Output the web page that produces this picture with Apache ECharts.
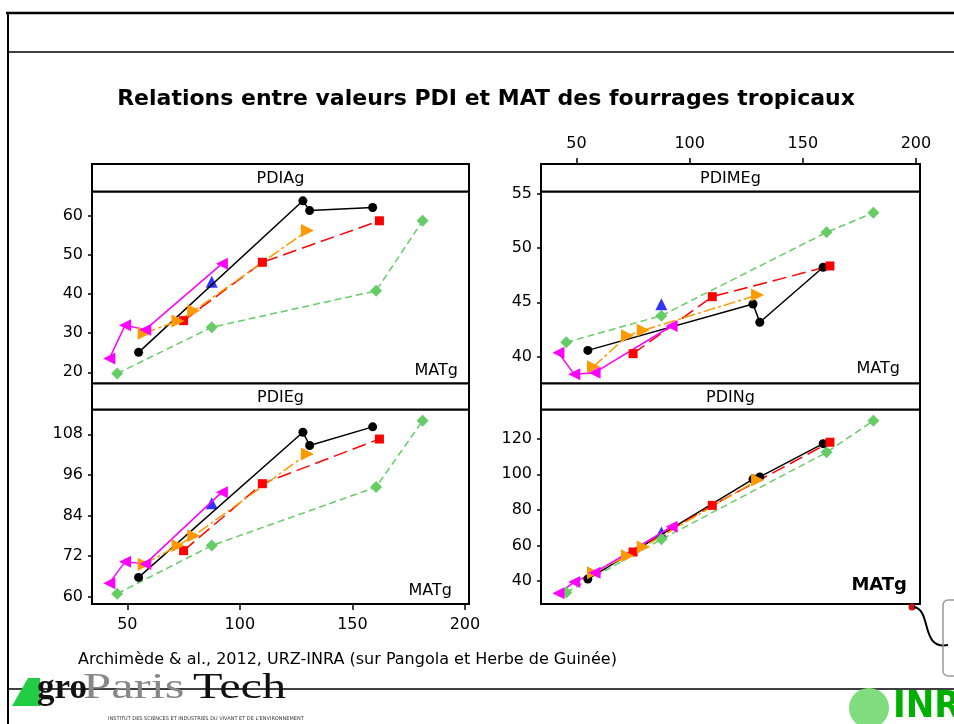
<!DOCTYPE html>
<html>
<head>
<meta charset="utf-8">
<title>Relations PDI / MAT</title>
<script src="https://cdn.jsdelivr.net/npm/echarts@6.0.0/dist/echarts.min.js"></script>
<style>
  html, body { margin: 0; padding: 0; background: #fff; }
  #chart { width: 954px; height: 724px; }
</style>
</head>
<body>
<div id="chart"></div>
<script>
const panelNames = ['PDIAg', 'PDIMEg', 'PDIEg', 'PDINg']
const matTicks = [50, 100, 150, 200]
const pdiaTicks = [20, 30, 40, 50, 60]
const pdimeTicks = [40, 45, 50, 55]
const pdieTicks = [60, 72, 84, 96, 108]
const pdinTicks = [40, 60, 80, 100, 120]

// MATg (x) de chaque groupe
const matBlack = [55, 128, 131, 159]
const matRed = [75, 110, 162]
const matOrange = [57.5, 72.5, 79.5, 130]
const matMagenta = [42, 49, 58, 92]
const matBlue = [87.5]
const matGreen = [45.5, 87.5, 160.5, 181.2]

// PDIAg
const pdiaBlack = [25.1, 63.8, 61.3, 62.1]
const pdiaRed = [33.2, 48.1, 58.7]
const pdiaOrange = [30.0, 33.1, 35.7, 56.2]
const pdiaMagenta = [23.5, 32.0, 30.9, 47.7]
const pdiaBlue = [43.1]
const pdiaGreen = [19.7, 31.5, 40.8, 58.7]

// PDIMEg
const pdimeBlack = [40.58, 44.84, 43.16, 48.21]
const pdimeRed = [40.28, 45.51, 48.33]
const pdimeOrange = [39.08, 41.93, 42.42, 45.67]
const pdimeMagenta = [40.37, 38.38, 38.53, 42.82]
const pdimeBlue = [44.81]
const pdimeGreen = [41.32, 43.77, 51.42, 53.22]

// PDIEg
const pdieBlack = [65.7, 108.6, 104.7, 110.2]
const pdieRed = [73.6, 93.4, 106.6]
const pdieOrange = [69.6, 75.1, 78.0, 102.2]
const pdieMagenta = [64.0, 70.3, 69.7, 90.9]
const pdieBlue = [87.6]
const pdieGreen = [60.9, 75.1, 92.4, 112.0]

// PDINg
const pdinBlack = [41.1, 97.3, 98.5, 117.2]
const pdinRed = [56.3, 82.5, 118.0]
const pdinOrange = [44.7, 54.2, 59.1, 96.8]
const pdinMagenta = [33.1, 39.4, 44.7, 70.5]
const pdinBlue = [67.2]
const pdinGreen = [33.6, 63.4, 112.3, 130.1]

const FONT = 'DejaVu Sans'
const rightTri = 'path://M0,0L10,5L0,10Z'
const leftTri = 'path://M10,0L0,5L10,10Z'

// ordre de dessin : vert dessous, bleu dessus
const groups = [
  {mat: matGreen, vals: [pdiaGreen, pdimeGreen, pdieGreen, pdinGreen], color: '#66CC66', symbol: 'diamond', size: 12, dash: [7, 4]},
  {mat: matBlack, vals: [pdiaBlack, pdimeBlack, pdieBlack, pdinBlack], color: '#000000', symbol: 'circle', size: 9, dash: 'solid'},
  {mat: matRed, vals: [pdiaRed, pdimeRed, pdieRed, pdinRed], color: '#FF0000', symbol: 'rect', size: 9, dash: [14, 6]},
  {mat: matOrange, vals: [pdiaOrange, pdimeOrange, pdieOrange, pdinOrange], color: '#FF9900', symbol: rightTri, size: 13, dash: [12, 3, 3, 3]},
  {mat: matMagenta, vals: [pdiaMagenta, pdimeMagenta, pdieMagenta, pdinMagenta], color: '#FF00FF', symbol: leftTri, size: 12, dash: 'solid'},
  {mat: matBlue, vals: [pdiaBlue, pdimeBlue, pdieBlue, pdinBlue], color: '#0000FF', symbol: 'triangle', size: 12, dash: null},
]

const boxes = [
  {left: 92, top: 191.5, width: 377, height: 192, stripTop: 164},
  {left: 541, top: 191.5, width: 379, height: 192, stripTop: 164},
  {left: 92, top: 409.5, width: 377, height: 194.5, stripTop: 383.5},
  {left: 541, top: 409.5, width: 379, height: 194.5, stripTop: 383.5},
]
const yTicks = [pdiaTicks, pdimeTicks, pdieTicks, pdinTicks]
const yLimits = [[17.14, 66.18], [37.54, 55.17], [57.84, 115.33], [27.07, 136.4]]

const chart = echarts.init(document.getElementById('chart'))

const grids = boxes.map(b => ({
  left: b.left, top: b.top, width: b.width, height: b.height,
  show: true, borderColor: '#000', borderWidth: 2, backgroundColor: '#fff',
}))

const labelStyle = {color: '#000', fontSize: 16, fontFamily: FONT}

const xAxes = boxes.map((b, i) => {
  const shown = i === 1 || i === 2
  return {
    type: 'value', gridIndex: i, min: 34.3, max: 201.8,
    show: shown,
    position: i === 1 ? 'top' : 'bottom',
    offset: i === 1 ? b.top - b.stripTop : 0,
    axisLine: {show: false},
    splitLine: {show: false},
    axisTick: {show: true, length: 6, customValues: matTicks, lineStyle: {color: '#000', width: 1.5}},
    axisLabel: Object.assign({margin: i === 1 ? 12 : 13, customValues: matTicks}, labelStyle),
  }
})

const yAxes = boxes.map((b, i) => ({
  type: 'value', gridIndex: i, min: yLimits[i][0], max: yLimits[i][1],
  position: 'left',
  axisLine: {show: false},
  splitLine: {show: false},
  axisTick: {show: true, length: 4, customValues: yTicks[i], lineStyle: {color: '#000', width: 1.5}},
  axisLabel: Object.assign({margin: 9, customValues: yTicks[i]}, labelStyle),
}))

const series = []
panelNames.forEach((name, p) => {
  groups.forEach(g => {
    const data = g.mat.map((x, k) => [x, g.vals[p][k]])
    series.push({
      type: g.dash ? 'line' : 'scatter',
      xAxisIndex: p, yAxisIndex: p,
      data: data,
      symbol: g.symbol,
      symbolSize: g.size,
      showSymbol: true,
      itemStyle: {color: g.color},
      lineStyle: g.dash ? {color: g.color, width: 1.5, type: g.dash} : undefined,
      emphasis: {disabled: true},
      clip: false,
    })
  })
})

const graphic = []
// cadre de la diapo
graphic.push(
  {type: 'line', shape: {x1: 6, y1: 13, x2: 954, y2: 13}, style: {stroke: '#000', lineWidth: 2.5}},
  {type: 'line', shape: {x1: 8, y1: 52, x2: 954, y2: 52}, style: {stroke: '#000', lineWidth: 1.5}},
  {type: 'line', shape: {x1: 8, y1: 12, x2: 8, y2: 724}, style: {stroke: '#000', lineWidth: 2}},
  {type: 'line', shape: {x1: 8, y1: 689, x2: 954, y2: 689}, style: {stroke: '#000', lineWidth: 1.5}},
)
// titre
graphic.push({type: 'text', x: 486, y: 99, style: {
  text: 'Relations entre valeurs PDI et MAT des fourrages tropicaux',
  font: 'bold 22px "DejaVu Sans"', fill: '#000', textAlign: 'center', textVerticalAlign: 'middle'}})
// bandeaux des panneaux
boxes.forEach((b, i) => {
  graphic.push({type: 'rect', z: 10, shape: {x: b.left, y: b.stripTop, width: b.width, height: b.top - b.stripTop},
    style: {fill: '#fff', stroke: '#000', lineWidth: 2}})
  graphic.push({type: 'text', z: 11, x: b.left + b.width / 2, y: (b.stripTop + b.top) / 2 + 1, style: {
    text: panelNames[i], font: '16px "DejaVu Sans"', fill: '#000', textAlign: 'center', textVerticalAlign: 'middle'}})
})
// étiquettes MATg
const matLabels = [
  {x: 458, y: 371, font: '16px "DejaVu Sans"'},
  {x: 900, y: 368.5, font: '16px "DejaVu Sans"'},
  {x: 452, y: 590.5, font: '16px "DejaVu Sans"'},
  {x: 907, y: 585, font: 'bold 18px "DejaVu Sans"'},
]
matLabels.forEach(m => graphic.push({type: 'text', z: 11, x: m.x, y: m.y, style: {
  text: 'MATg', font: m.font, fill: '#000', textAlign: 'right', textVerticalAlign: 'middle'}}))
// source
graphic.push({type: 'text', x: 78, y: 660, style: {
  text: 'Archimède & al., 2012, URZ-INRA (sur Pangola et Herbe de Guinée)',
  font: '16px "DejaVu Sans"', fill: '#000', textAlign: 'left', textVerticalAlign: 'middle'}})
// logo AgroParisTech
graphic.push(
  {type: 'polygon', shape: {points: [[12, 706], [28, 678], [40, 678], [40, 706]]}, style: {fill: '#22cc44'}},
  {type: 'text', x: 37, y: 706, style: {text: 'gro', font: 'bold 35px "Liberation Serif"', fill: '#111', textVerticalAlign: 'bottom'}},
  {type: 'text', x: 83, y: 706, scaleX: 1.45, style: {text: 'Paris', font: '35px "Liberation Serif"', fill: '#888', textVerticalAlign: 'bottom'}},
  {type: 'text', x: 193, y: 706, scaleX: 1.38, style: {text: 'Tech', font: '35px "Liberation Serif"', fill: '#111', textVerticalAlign: 'bottom'}},
  {type: 'text', x: 108, y: 719, style: {text: "INSTITUT DES SCIENCES ET INDUSTRIES DU VIVANT ET DE L'ENVIRONNEMENT", font: '5px "DejaVu Sans"', fill: '#333', textVerticalAlign: 'middle'}},
)
// logo INRA
graphic.push(
  {type: 'circle', shape: {cx: 869, cy: 708, r: 20}, style: {fill: '#7fdc7f'}},
  {type: 'text', x: 893, y: 726, style: {text: 'INRA', font: 'bold 38px "DejaVu Sans Condensed"', fill: '#00b000', textVerticalAlign: 'bottom'}},
)
// petit dessin à droite
graphic.push(
  {type: 'circle', shape: {cx: 912, cy: 607, r: 3.5}, style: {fill: '#cc1111'}},
  {type: 'bezierCurve', shape: {x1: 914, y1: 607, cpx1: 932, cpy1: 610, cpx2: 920, cpy2: 650, x2: 948, y2: 645}, style: {stroke: '#000', lineWidth: 2, fill: null}},
  {type: 'rect', shape: {x: 943, y: 600, width: 20, height: 76, r: 5}, style: {fill: null, stroke: '#999', lineWidth: 1.5}},
)

const options = {
  animation: false,
  backgroundColor: '#fff',
  grid: grids,
  xAxis: xAxes,
  yAxis: yAxes,
  series: series,
  graphic: graphic,
}
options && chart.setOption(options)
</script>
</body>
</html>
